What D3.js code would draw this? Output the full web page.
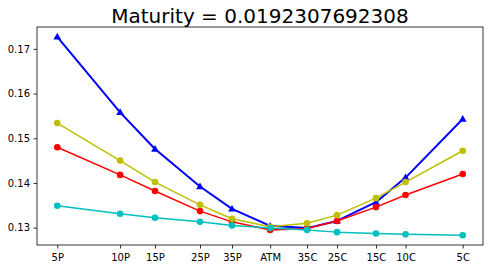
<!DOCTYPE html>
<html>
<head>
<meta charset="utf-8">
<script src="https://cdn.jsdelivr.net/npm/d3@7"></script>
<style>
  body { margin: 0; background: #fff; }
  svg { display: block; font-family: "DejaVu Sans", sans-serif; }
</style>
</head>
<body>
<script>
// catégories (delta) et position estimée sur l'axe x
const labels = ["5P", "10P", "15P", "25P", "35P", "ATM", "35C", "25C", "15C", "10C", "5C"]
const strikes = [100, 115.5, 124.1, 135.2, 143.1, 152.5, 161.6, 169.0, 178.6, 185.9, 200]

// volatilités
const blueVol = [0.1727, 0.1558, 0.1476, 0.1392, 0.1342, 0.1304, 0.1299, 0.1315, 0.1357, 0.1412, 0.1543]
const redVol = [0.1480, 0.1418, 0.1382, 0.1337, 0.1313, 0.1295, 0.1298, 0.1315, 0.1346, 0.1373, 0.1420]
const yellowVol = [0.1534, 0.1450, 0.1402, 0.1351, 0.1320, 0.1302, 0.1310, 0.1328, 0.1366, 0.1402, 0.1472]
const cyanVol = [0.1349, 0.1331, 0.1322, 0.1313, 0.1305, 0.1299, 0.1295, 0.1290, 0.1287, 0.1285, 0.1283]

const yTicks = [0.13, 0.14, 0.15, 0.16, 0.17]
const title = "Maturity = 0.0192307692308"

const series = [
    { values: blueVol, color: "#0000ff", marker: "triangle", lw: 2 },
    { values: redVol, color: "#ff0000", marker: "circle", lw: 1.5 },
    { values: yellowVol, color: "#bfbf00", marker: "circle", lw: 1.5 },
    { values: cyanVol, color: "#00bfbf", marker: "circle", lw: 1.5 }
]

//------------------------------------------------------------------------------

const W = 493, H = 269
const margin = { top: 27, right: 10, bottom: 24, left: 37 }
const width = W - margin.left - margin.right
const height = H - margin.top - margin.bottom

const svg = d3.select("body").append("svg")
    .attr("width", W)
    .attr("height", H)

const g = svg.append("g")
    .attr("transform", "translate(" + margin.left + "," + margin.top + ")")

// marge de 5% comme matplotlib
const xMin = d3.min(strikes), xMax = d3.max(strikes)
const xPad = (xMax - xMin) * 0.05
const x = d3.scaleLinear()
    .domain([xMin - xPad, xMax + xPad])
    .range([0, width])

const y = d3.scaleLinear()
    .domain([0.12612, 0.17489])
    .range([height, 0])

//------------------------------------------------------------------------------

// axes
const xAxis = g.append("g")
    .attr("transform", "translate(0," + height + ")")
    .call(d3.axisBottom(x).tickValues(strikes).tickFormat((d, i) => labels[i]).tickSize(3.5).tickPadding(5).tickSizeOuter(0))

const yAxis = g.append("g")
    .call(d3.axisLeft(y).tickValues(yTicks).tickFormat(d3.format(".2f")).tickSize(3.5).tickPadding(3.5).tickSizeOuter(0))

svg.selectAll(".domain").remove()
svg.selectAll(".tick line").attr("stroke", "#000").attr("stroke-width", 0.8)
svg.selectAll(".tick text")
    .attr("fill", "#000")
    .style("font-family", "DejaVu Sans")
    .style("font-size", "10px")

//------------------------------------------------------------------------------

// courbes
const line = d3.line()
    .x((d, i) => x(strikes[i]))
    .y(d => y(d))

const tri = d3.symbol().type(d3.symbolTriangle).size(26)

series.forEach(s => {
    const sg = g.append("g")
    sg.append("path")
        .datum(s.values)
        .attr("d", line)
        .attr("fill", "none")
        .attr("stroke", s.color)
        .attr("stroke-width", s.lw)
        .attr("stroke-linejoin", "round")

    if (s.marker == "circle") {
        sg.selectAll("circle")
            .data(s.values)
            .join("circle")
            .attr("cx", (d, i) => x(strikes[i]))
            .attr("cy", d => y(d))
            .attr("r", 3.3)
            .attr("fill", s.color)
    } else {
        sg.selectAll("path.m")
            .data(s.values)
            .join("path")
            .attr("class", "m")
            .attr("d", tri)
            .attr("transform", (d, i) => "translate(" + x(strikes[i]) + "," + (y(d) + 0.5) + ")")
            .attr("fill", s.color)
    }
})

// cadre
g.append("rect")
    .attr("x", 0)
    .attr("y", 0)
    .attr("width", width)
    .attr("height", height)
    .attr("fill", "none")
    .attr("stroke", "#000")
    .attr("stroke-width", 0.8)

// titre
svg.append("text")
    .attr("x", margin.left + width / 2)
    .attr("y", 22.5)
    .attr("text-anchor", "middle")
    .style("font-family", "DejaVu Sans")
    .style("font-size", "20px")
    .attr("fill", "#000")
    .text(title)
</script>
</body>
</html>
